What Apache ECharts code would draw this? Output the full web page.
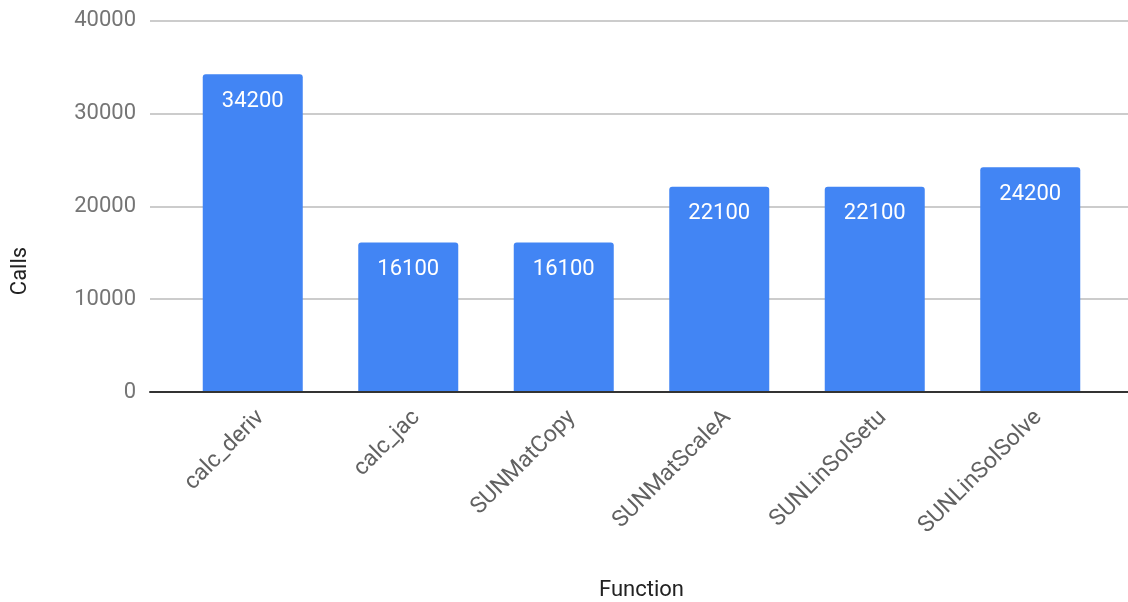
<!DOCTYPE html>
<html>
<head>
<meta charset="utf-8">
<style>
  html, body { margin: 0; padding: 0; background: #fff; }
  #chart { width: 1128px; height: 602px; }
</style>
<script src="https://cdn.jsdelivr.net/npm/echarts@6/dist/echarts.min.js"></script>
</head>
<body>
<div id="chart"></div>
<script>
// Function call counts
const functions = ['calc_deriv', 'calc_jac', 'SUNMatCopy', 'SUNMatScaleA', 'SUNLinSolSetu', 'SUNLinSolSolve'];
const calls = [34200, 16100, 16100, 22100, 22100, 24200];
const yTicks = [0, 10000, 20000, 30000, 40000];

const FONT = 'Roboto, "Noto Sans", sans-serif';
const yMin = yTicks[0];
const yMax = yTicks[yTicks.length - 1];
const yStep = yTicks[1] - yTicks[0];

const chart = echarts.init(document.getElementById('chart'), null, { renderer: 'canvas' });

chart.setOption({
  animation: false,
  backgroundColor: '#ffffff',
  textStyle: { fontFamily: FONT },
  grid: [
    // bars
    { left: 175, right: 20, top: 20.5, bottom: 210, containLabel: false, outerBoundsMode: 'none' },
    // full-width backdrop: gridlines, baseline and value labels
    { left: 150, right: 0, top: 20.5, bottom: 210, containLabel: false, outerBoundsMode: 'none' }
  ],
  graphic: [
    {
      type: 'text',
      x: 20,
      y: 271,
      rotation: Math.PI / 2,
      style: {
        text: 'Calls',
        fill: '#222222',
        fontSize: 22,
        fontFamily: FONT,
        align: 'center',
        verticalAlign: 'middle'
      }
    }
  ],
  xAxis: [
    {
      type: 'category',
      gridIndex: 0,
      data: functions,
      axisLine: { show: false },
      axisTick: { show: false },
      axisLabel: {
        rotate: 45,
        margin: 14,
        verticalAlign: 'top',
        color: '#616161',
        fontSize: 23,
        fontFamily: FONT
      },
      name: 'Function',
      nameLocation: 'middle',
      nameGap: 187,
      nameTextStyle: { color: '#222222', fontSize: 22, fontFamily: FONT }
    },
    {
      type: 'value',
      gridIndex: 1,
      min: 0,
      max: 1,
      axisLine: { show: true, onZero: false, lineStyle: { color: '#333333', width: 2 } },
      axisTick: { show: false },
      axisLabel: { show: false },
      splitLine: { show: false },
      z: 5
    }
  ],
  yAxis: [
    {
      type: 'value',
      gridIndex: 0,
      min: yMin,
      max: yMax,
      interval: yStep,
      show: false,
      splitLine: { show: false }
    },
    {
      type: 'value',
      gridIndex: 1,
      min: yMin,
      max: yMax,
      interval: yStep,
      axisLine: { show: false },
      axisTick: { show: false },
      axisLabel: {
        color: '#757575',
        fontSize: 22,
        margin: 14,
        fontFamily: FONT,
        formatter: (v) => String(v)
      },
      splitLine: { show: true, lineStyle: { color: '#cccccc', width: 2 } }
    }
  ],
  series: [
    {
      type: 'bar',
      xAxisIndex: 0,
      yAxisIndex: 0,
      data: calls,
      barWidth: 100,
      itemStyle: { color: '#4285f4', borderRadius: [3, 3, 0, 0] },
      label: {
        show: true,
        position: 'insideTop',
        distance: 16,
        color: '#ffffff',
        fontSize: 22,
        fontFamily: FONT
      },
      z: 3
    }
  ]
});
</script>
</body>
</html>
